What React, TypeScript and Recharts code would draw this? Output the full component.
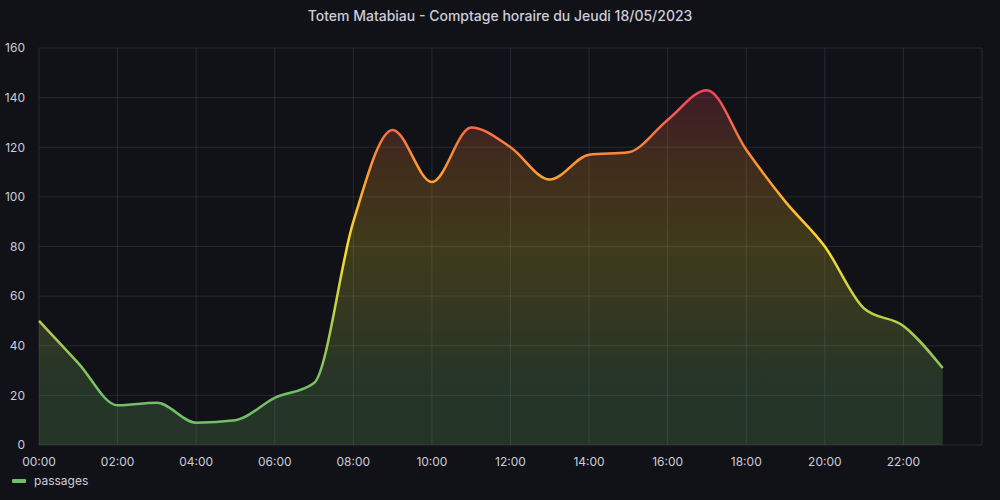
import { AreaChart, Area, XAxis, YAxis, CartesianGrid } from "recharts"

const hours = [0, 1, 2, 3, 4, 5, 6, 7, 8, 9, 10, 11, 12, 13, 14, 15, 16, 17, 18, 19, 20, 21, 22, 23]
const passages = [50, 33, 16, 17, 9, 10, 19, 25, 90, 127, 106, 128, 120, 107, 117, 118, 131, 143, 119, 98, 80, 55, 48, 31]
const xTicks = [0, 2, 4, 6, 8, 10, 12, 14, 16, 18, 20, 22]
const yTicks = [0, 20, 40, 60, 80, 100, 120, 140, 160]

const title = "Totem Matabiau - Comptage horaire du Jeudi 18/05/2023"
const seriesName = "passages"

const data = hours.map((h, i) => ({ hour: h, passages: passages[i] }))

const font = "Inter, 'Noto Sans', sans-serif"
const textColor = "#ccccdc"

// value -> colour scheme (green / yellow / orange / red), offsets on a 0..160 scale
const schemeStops = [
  { v: 0, c: "#73BF69" },
  { v: 22, c: "#73BF69" },
  { v: 80, c: "#FADE2A" },
  { v: 112, c: "#FF9830" },
  { v: 140, c: "#F2495C" },
  { v: 160, c: "#F2495C" },
]

const pad = (n: number) => (n < 10 ? "0" + n : "" + n) + ":00"

export default function App() {
  const top = 48
  const bottom = 445
  return (
    <div
      style={{
        position: "fixed",
        left: 0,
        top: 0,
        width: 1000,
        height: 500,
        background: "#111217",
        fontFamily: font,
      }}
    >
      <div
        style={{
          position: "absolute",
          top: 7,
          left: 0,
          width: 1000,
          textAlign: "center",
          color: textColor,
          fontSize: 14,
          fontWeight: 500,
        }}
      >
        {title}
      </div>
      <AreaChart width={1000} height={500} data={data} margin={{ top: top, right: 18, bottom: 0, left: 0 }}>
        <defs>
          <linearGradient id="scheme" gradientUnits="userSpaceOnUse" x1="0" y1={bottom} x2="0" y2={top}>
            {schemeStops.map((s) => (
              <stop key={s.v} offset={s.v / 160} stopColor={s.c} />
            ))}
          </linearGradient>
        </defs>
        <CartesianGrid stroke="rgba(204,204,220,0.12)" />
        <XAxis
          dataKey="hour"
          type="number"
          domain={[0, 24]}
          ticks={xTicks}
          tickFormatter={pad}
          height={500 - bottom}
          tickLine={false}
          axisLine={false}
          tickMargin={6}
          tick={{ fill: textColor, fontSize: 12, fontFamily: font }}
        />
        <YAxis
          domain={[0, 160]}
          ticks={yTicks}
          width={39}
          tickLine={false}
          axisLine={false}
          tickMargin={8}
          tick={{ fill: textColor, fontSize: 12, fontFamily: font }}
        />
        <Area
          type="monotone"
          dataKey="passages"
          stroke="url(#scheme)"
          strokeWidth={2.5}
          fill="url(#scheme)"
          fillOpacity={0.2}
          dot={false}
          activeDot={false}
          isAnimationActive={false}
        />
      </AreaChart>
      <div
        style={{
          position: "absolute",
          left: 12,
          top: 473,
          display: "flex",
          alignItems: "center",
          color: textColor,
          fontSize: 12,
        }}
      >
        <span style={{ display: "inline-block", width: 14, height: 4, borderRadius: 1, background: "#73BF69", marginRight: 8 }} />
        {seriesName}
      </div>
    </div>
  )
}
